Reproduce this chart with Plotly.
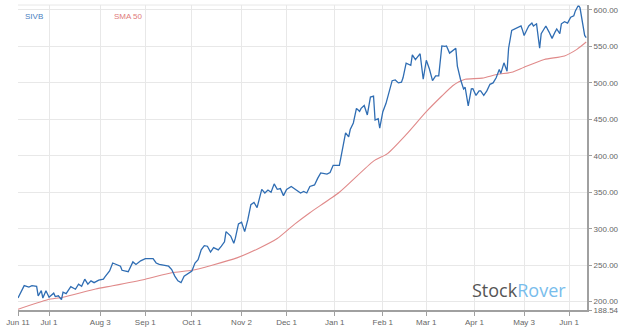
import plotly.graph_objects as go

price_dates = [
    "2020-06-11", "2020-06-15", "2020-06-18", "2020-06-20", "2020-06-23", "2020-06-24",
    "2020-06-26", "2020-06-27", "2020-06-29", "2020-07-01", "2020-07-04", "2020-07-05",
    "2020-07-07", "2020-07-09", "2020-07-10", "2020-07-12", "2020-07-15", "2020-07-18",
    "2020-07-20", "2020-07-22", "2020-07-24", "2020-07-26", "2020-07-28", "2020-07-30",
    "2020-08-02", "2020-08-05", "2020-08-06", "2020-08-09", "2020-08-11", "2020-08-13",
    "2020-08-16", "2020-08-17", "2020-08-21", "2020-08-24", "2020-08-26", "2020-08-29",
    "2020-09-01", "2020-09-06", "2020-09-08", "2020-09-10", "2020-09-13", "2020-09-16",
    "2020-09-18", "2020-09-20", "2020-09-22", "2020-09-24", "2020-09-26", "2020-09-29",
    "2020-10-01", "2020-10-03", "2020-10-05", "2020-10-07", "2020-10-09", "2020-10-11",
    "2020-10-13", "2020-10-15", "2020-10-18", "2020-10-20", "2020-10-22", "2020-10-23",
    "2020-10-25", "2020-10-26", "2020-10-28", "2020-10-29", "2020-10-31", "2020-11-02",
    "2020-11-04", "2020-11-06", "2020-11-08", "2020-11-10", "2020-11-12", "2020-11-13",
    "2020-11-15", "2020-11-17", "2020-11-19", "2020-11-21", "2020-11-23", "2020-11-25",
    "2020-11-27", "2020-11-29", "2020-12-01", "2020-12-04", "2020-12-07", "2020-12-10",
    "2020-12-12", "2020-12-14", "2020-12-16", "2020-12-19", "2020-12-21", "2020-12-23",
    "2020-12-27", "2020-12-29", "2020-12-31", "2021-01-04", "2021-01-05", "2021-01-07",
    "2021-01-08", "2021-01-10", "2021-01-11", "2021-01-13", "2021-01-15", "2021-01-17",
    "2021-01-18", "2021-01-20", "2021-01-21", "2021-01-22", "2021-01-24", "2021-01-26",
    "2021-01-27", "2021-01-29", "2021-01-30", "2021-02-01", "2021-02-03", "2021-02-05",
    "2021-02-07", "2021-02-09", "2021-02-11", "2021-02-13", "2021-02-14", "2021-02-16",
    "2021-02-19", "2021-02-20", "2021-02-22", "2021-02-25", "2021-02-27", "2021-03-01",
    "2021-03-03", "2021-03-05", "2021-03-07", "2021-03-09", "2021-03-11", "2021-03-13",
    "2021-03-14", "2021-03-16", "2021-03-19", "2021-03-20", "2021-03-21", "2021-03-23",
    "2021-03-25", "2021-03-26", "2021-03-28", "2021-03-30", "2021-03-31", "2021-04-02",
    "2021-04-04", "2021-04-05", "2021-04-07", "2021-04-09", "2021-04-11", "2021-04-13",
    "2021-04-15", "2021-04-17", "2021-04-18", "2021-04-20", "2021-04-22", "2021-04-23",
    "2021-04-25", "2021-04-27", "2021-04-29", "2021-05-01", "2021-05-02", "2021-05-03",
    "2021-05-05", "2021-05-06", "2021-05-08", "2021-05-09", "2021-05-11", "2021-05-12",
    "2021-05-13", "2021-05-14", "2021-05-16", "2021-05-17", "2021-05-19", "2021-05-21",
    "2021-05-23", "2021-05-24", "2021-05-26", "2021-05-27", "2021-05-29", "2021-05-31",
    "2021-06-02", "2021-06-04", "2021-06-05", "2021-06-07", "2021-06-08", "2021-06-10",
    "2021-06-11", "2021-06-12",
]
price_values = [
    205, 222, 220, 222, 221, 208,
    215, 205, 215, 206, 211.6, 207,
    208, 202.7, 213, 211, 220.5, 217,
    224, 221, 230.8, 224, 228.5, 226,
    229.4, 230.8, 234, 242, 253, 251,
    248.6, 243, 241, 254.5, 251, 256,
    259, 259, 253, 251, 250, 248.6,
    244, 235, 228.5, 226, 235, 239.7,
    242, 253, 257.5, 271, 276.7, 276,
    268, 274, 271, 276, 282, 296,
    291, 290, 280, 287, 306.6, 309,
    296, 312, 333, 336, 329, 337,
    354, 349, 353, 350, 361.5, 354,
    355, 345.4, 354, 358, 353, 349,
    351, 349, 358, 360, 369, 376.6,
    375, 377, 387, 387, 398, 418,
    431.5, 426, 436, 445, 465, 461,
    465, 469, 463, 456, 480.6, 482,
    449, 451, 438, 460.5, 471.6, 487,
    503, 504, 500, 501, 507, 527,
    524, 538.5, 532, 540, 505, 531,
    519, 503, 509.6, 509.6, 550.6, 550,
    550.6, 540.8, 546, 547.5, 523, 505,
    491.7, 494, 468.5, 491.7, 492, 482.8,
    489, 489, 483, 489, 498, 500,
    507, 518.5, 513, 527.5, 516, 547.5,
    572, 574, 576, 578, 572, 565,
    574, 578, 582, 578, 581, 563,
    547.5, 567.5, 576, 578, 570, 561,
    570, 574, 567.5, 581, 584, 582,
    590, 592, 598.7, 606.5, 603, 578.7,
    565, 562,
]

sma_dates = [
    "2020-06-11", "2020-06-30", "2020-07-10", "2020-07-31", "2020-08-11", "2020-09-01",
    "2020-09-18", "2020-10-01", "2020-10-14", "2020-10-30", "2020-11-12", "2020-11-25",
    "2020-12-06", "2020-12-16", "2021-01-04", "2021-01-26", "2021-02-04", "2021-02-16",
    "2021-03-01", "2021-03-11", "2021-03-18", "2021-03-22", "2021-03-26", "2021-04-06",
    "2021-04-16", "2021-04-25", "2021-05-03", "2021-05-16", "2021-05-29", "2021-06-06",
    "2021-06-12",
]
sma_values = [
    189.5, 202.7, 206, 217.4, 221.8, 230.8,
    239.7, 243, 250, 260, 272, 286.6,
    306, 322, 350, 392.7, 403, 429,
    460.5, 482, 496, 501.5, 505, 506.5,
    511.8, 514.5, 521.5, 532, 537, 546,
    556,
]

x_tick_dates = ["2020-06-11", "2020-07-01", "2020-08-03", "2020-09-01", "2020-10-01",
                "2020-11-02", "2020-12-01", "2021-01-01", "2021-02-01", "2021-03-01",
                "2021-04-01", "2021-05-03", "2021-06-01"]
x_tick_labels = ["Jun 11", "Jul 1", "Aug 3", "Sep 1", "Oct 1", "Nov 2", "Dec 1",
                 "Jan 1", "Feb 1", "Mar 1", "Apr 1", "May 3", "Jun 1"]
y_tick_values = [188.54, 200, 250, 300, 350, 400, 450, 500, 550, 600]
y_tick_labels = ["188.54", "200.00", "250.00", "300.00", "350.00", "400.00",
                 "450.00", "500.00", "550.00", "600.00"]

BLUE = "#2f6db3"
RED = "#e08a8a"
GRID = "#e8e8e8"
AXIS = "#a0a0a0"

fig = go.Figure()
fig.add_trace(go.Scatter(x=sma_dates, y=sma_values, mode="lines", name="SMA 50",
                         line=dict(color=RED, width=1.1, shape="spline", smoothing=0.6)))
fig.add_trace(go.Scatter(x=price_dates, y=price_values, mode="lines", name="SIVB",
                         line=dict(color=BLUE, width=1.3)))

fig.update_layout(
    width=624, height=332,
    margin=dict(l=18, r=27, t=5, b=15),
    paper_bgcolor="white", plot_bgcolor="white",
    showlegend=False,
    font=dict(family="Liberation Sans, Arial, sans-serif", size=8, color="#666666"),
    xaxis=dict(
        type="date",
        range=["2020-06-11", "2021-06-12 12:00"],
        tickvals=x_tick_dates, ticktext=x_tick_labels,
        showgrid=True, gridcolor=GRID, gridwidth=1,
        showline=True, linecolor=AXIS, linewidth=1.5,
        ticks="outside", ticklen=4, tickcolor=AXIS,
        tickfont=dict(size=8, color="#666666"),
        zeroline=False,
    ),
    yaxis=dict(
        side="right",
        range=[188.54, 606.8],
        tickvals=y_tick_values, ticktext=y_tick_labels,
        showgrid=True, gridcolor=GRID, gridwidth=1,
        showline=True, linecolor=AXIS, linewidth=2,
        ticks="outside", ticklen=3, tickcolor=AXIS,
        tickfont=dict(size=8, color="#666666"),
        zeroline=False,
    ),
    shapes=[
        dict(type="line", xref="paper", yref="paper", x0=0, x1=1, y0=1, y1=1,
             line=dict(color=GRID, width=1)),
    ],
    annotations=[
        dict(text="SIVB", xref="paper", yref="paper", x=0.009, y=0.985,
             xanchor="left", yanchor="top", showarrow=False,
             font=dict(size=8, color="#4a80c0")),
        dict(text="SMA 50", xref="paper", yref="paper", x=0.165, y=0.985,
             xanchor="left", yanchor="top", showarrow=False,
             font=dict(size=8, color="#e07a7a")),
        dict(text="<span style='color:#555555'>Stock</span><span style='color:#78bdec'>Rover</span>",
             xref="paper", yref="paper", x=0.794, y=0.02,
             xanchor="left", yanchor="bottom", showarrow=False,
             font=dict(size=18, family="Open Sans, sans-serif")),
    ],
)

fig.write_html("out.html")
